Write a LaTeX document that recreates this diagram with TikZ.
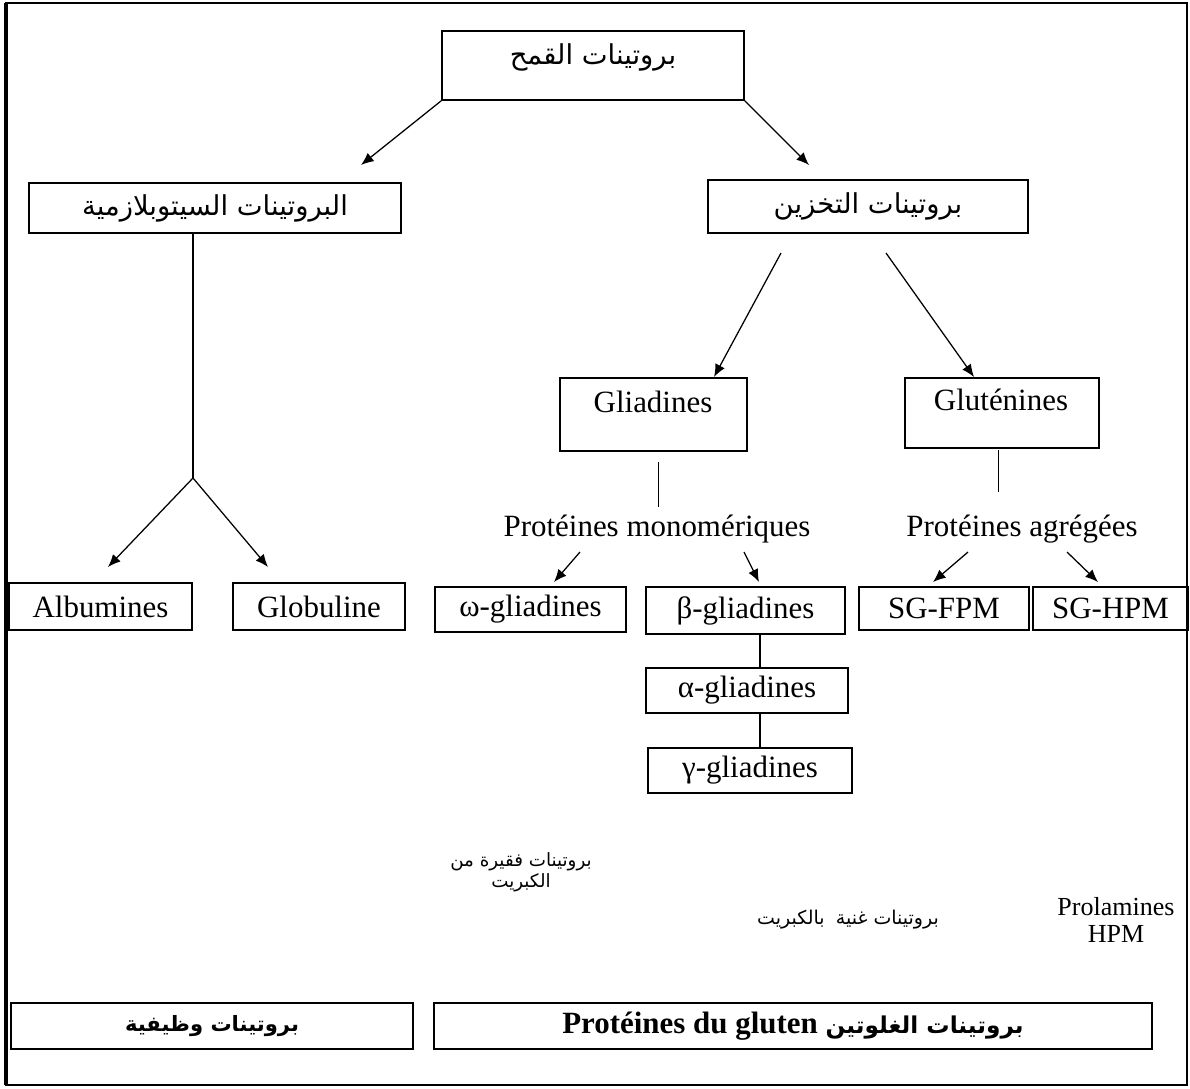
\documentclass[tikz,border=0pt]{standalone}
\usepackage{fontspec}
\setmainfont{Liberation Serif}
\newfontfamily\arabicfont[Script=Arabic]{DejaVu Sans}
\TeXXeTstate=1
\usepackage{tikz}
\usetikzlibrary{arrows.meta,calc}

\newcommand{\artxt}[1]{{\arabicfont\beginR #1\endR}}

\tikzset{
  box/.style={draw, line width=1.2pt, inner sep=0pt},
  conn/.style={line width=0.9pt},
  arr/.style={conn, -{Latex[length=9pt,width=7.5pt]}},
  thinline/.style={line width=0.5pt},
  arbig/.style={font=\fontsize{19.5}{22}\selectfont},
}

\begin{document}
\begin{tikzpicture}[x=0.025cm, y=-0.025cm, font=\fontsize{22}{26}\selectfont]
  \def\pxu{0.025cm}
  \fill[white] (0,0) rectangle (1190,1088);
  \useasboundingbox (0,0) rectangle (1190,1088);
  % frame
  \draw[line width=1.3pt] (6,3) rectangle (1187,1085);
  \draw[line width=3pt] (6,3) -- (6,1085);

  % top level
  \node (ble) [box, minimum width=302*\pxu, minimum height=69*\pxu] at (593,65.5) {};
  \node (bletxt) [arbig] at (593,57) {\artxt{بروتينات القمح}};
  \node (cyto) [box, arbig, minimum width=372*\pxu, minimum height=50*\pxu] at (215,208)
    {\artxt{البروتينات السيتوبلازمية}};
  \node (stock) [box, arbig, minimum width=320*\pxu, minimum height=53*\pxu] at (868,206.5)
    {\artxt{بروتينات التخزين}};
  \coordinate (c1) at (361,165);
  \coordinate (c2) at (809,165);
  \draw[arr] (ble.south west) -- (c1);
  \draw[arr] (ble.south east) -- (c2);

  % cytoplasmic branch
  \node (alb) [box, minimum width=183*\pxu, minimum height=47*\pxu] at (100.5,606.5) {Albumines};
  \node (glob) [box, minimum width=172*\pxu, minimum height=47*\pxu] at (319,606.5) {Globuline};
  \coordinate (fork) at (193,478);
  \coordinate (c3) at (108,567);
  \coordinate (c4) at (268,567);
  \draw[conn] (fork |- cyto.south) -- (fork);
  \draw[arr] (fork) -- (c3);
  \draw[arr] (fork) -- (c4);

  % storage branch
  \node (gliad) [box, minimum width=187*\pxu, minimum height=73*\pxu] at (653.5,414.5) {};
  \node (gliadtxt) at (653,402) {Gliadines};
  \node (glut) [box, minimum width=194*\pxu, minimum height=70*\pxu] at (1002,413) {};
  \node (gluttxt) at (1001,400) {Gluténines};
  \coordinate (s1) at (781,253);
  \coordinate (s2) at (886,253);
  \coordinate (e1) at (714,377);
  \coordinate (e2) at (974,377);
  \draw[arr] (s1) -- (e1);
  \draw[arr] (s2) -- (e2);

  \node (mono) at (657,529) {Protéines monomériques};
  \node (agr) at (1022,529) {Protéines agrégées};
  \coordinate (g1) at (658,462);
  \coordinate (g2) at (658,507);
  \coordinate (t1) at (998,450);
  \coordinate (t2) at (998,492);
  \draw[thinline] (g1) -- (g2);
  \draw[thinline] (t1) -- (t2);

  % sub-units
  \node (omega) [box, minimum width=191*\pxu, minimum height=45*\pxu] at (530.5,609.5) {ω-gliadines};
  \node (beta) [box, minimum width=199*\pxu, minimum height=47*\pxu] at (745.5,610.5) {β-gliadines};
  \node (alpha) [box, minimum width=202*\pxu, minimum height=45*\pxu] at (747,690.5) {α-gliadines};
  \node (gamma) [box, minimum width=204*\pxu, minimum height=45*\pxu] at (750,770.5) {γ-gliadines};
  \node (sgf) [box, minimum width=170*\pxu, minimum height=43*\pxu] at (944,608.5) {SG-FPM};
  \node (sgh) [box, minimum width=155*\pxu, minimum height=43*\pxu] at (1110.5,608.5) {SG-HPM};
  \coordinate (m1) at (580,552);
  \coordinate (m2) at (744,552);
  \coordinate (a1) at (968,552);
  \coordinate (a2) at (1067,552);
  \draw[arr] (m1) -- (554,582);
  \draw[arr] (m2) -- (759,582);
  \draw[arr] (a1) -- (933,582);
  \draw[arr] (a2) -- (1098,582);
  \draw[conn] (beta.south -| 760,0) -- (alpha.north -| 760,0);
  \draw[conn] (alpha.south -| 760,0) -- (gamma.north -| 760,0);

  % sulfur notes
  \node (poor) [align=center, font=\fontsize{13}{15}\selectfont] at (521,872)
    {\artxt{بروتينات فقيرة من}\\\artxt{الكبريت}};
  \node (rich) [font=\fontsize{13.5}{15}\selectfont] at (848,920)
    {\artxt{بروتينات غنية\hspace{8pt}بالكبريت}};
  \node (prol) [align=center, font=\fontsize{18.5}{19}\selectfont] at (1116,920) {Prolamines\\HPM};

  % bottom boxes
  \node (fonct) [box, minimum width=402*\pxu, minimum height=46*\pxu] at (212,1026)
    {\fontsize{15}{18}\selectfont\arabicfont\bfseries\beginR بروتينات وظيفية\endR};
  \node (gluten) [box, minimum width=718*\pxu, minimum height=46*\pxu] at (793,1026)
    {\bfseries Protéines du gluten {\fontsize{16.5}{18}\selectfont\artxt{بروتينات الغلوتين}}};
\end{tikzpicture}
\end{document}
